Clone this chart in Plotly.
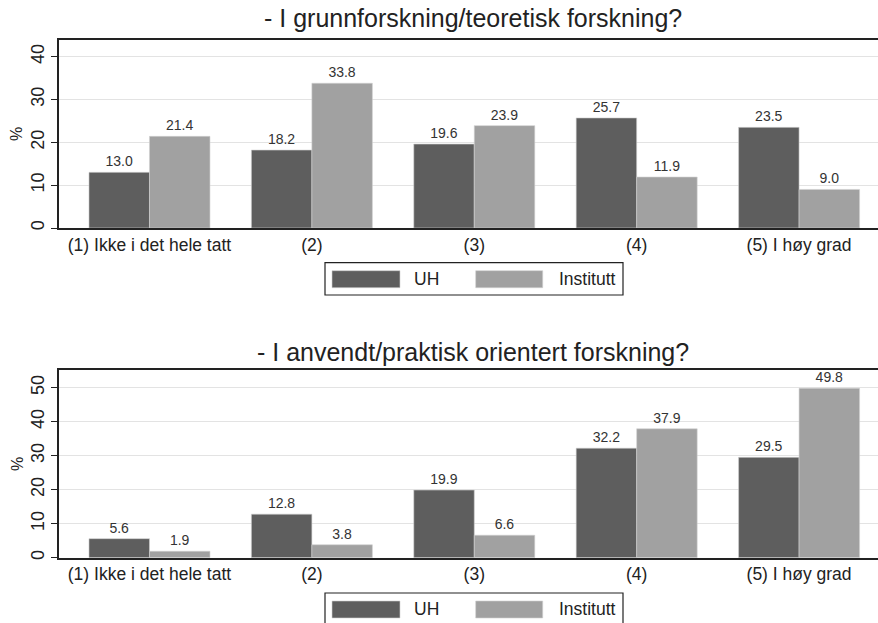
import plotly.graph_objects as go

categories = ["(1) Ikke i det hele tatt", "(2)", "(3)", "(4)", "(5) I høy grad"]
series_names = ["UH", "Institutt"]
titles = ["- I grunnforskning/teoretisk forskning?", "- I anvendt/praktisk orientert forskning?"]
y_title = "%"
uh_basic = [13.0, 18.2, 19.6, 25.7, 23.5]
inst_basic = [21.4, 33.8, 23.9, 11.9, 9.0]
uh_applied = [5.6, 12.8, 19.9, 32.2, 29.5]
inst_applied = [1.9, 3.8, 6.6, 37.9, 49.8]

W, H = 878, 623
colors = ["#5e5e5e", "#a1a1a1"]
FONT = "Liberation Sans, Arial, sans-serif"

def px_x(x):
    return x / W

def px_y(y):
    return 1 - y / H

fig = go.Figure()

panels = [
    dict(data=[uh_basic, inst_basic], top=40, bottom=228, ymax=43.9, ticks=[0, 10, 20, 30, 40], ax="", title_y=18),
    dict(data=[uh_applied, inst_applied], top=370.3, bottom=557.7, ymax=55.1, ticks=[0, 10, 20, 30, 40, 50], ax="2", title_y=352),
]

layout = dict(
    width=W, height=H, margin=dict(l=0, r=0, t=0, b=0, autoexpand=False),
    paper_bgcolor="white", plot_bgcolor="white",
    barmode="group", bargap=0.255, bargroupgap=0,
    showlegend=False, font=dict(family=FONT, color="#222"),
)
shapes = []
annotations = []

for i, p in enumerate(panels):
    ax = p["ax"]
    for j, vals in enumerate(p["data"]):
        fig.add_trace(go.Bar(
            x=categories, y=vals, name=series_names[j],
            marker=dict(color=colors[j], line=dict(color="#d0d0d0", width=0.6)),
            texttemplate="%{y:.1f}", textposition="outside", cliponaxis=False,
            textfont=dict(size=14, color="#333", family=FONT),
            xaxis="x" + ax, yaxis="y" + ax, offsetgroup=str(j),
        ))
    layout["xaxis" + ax] = dict(
        domain=[px_x(58.7), 1], range=[-0.559, 4.486], anchor="y" + ax,
        showline=True, mirror=True, linecolor="#222", linewidth=1.5,
        ticks="", tickfont=dict(size=17.5, family=FONT, color="#222"),
        showgrid=False, fixedrange=True, automargin=False,
    )
    layout["yaxis" + ax] = dict(
        domain=[px_y(p["bottom"]), px_y(p["top"])], range=[0, p["ymax"]], anchor="x" + ax,
        showline=True, mirror=False, linecolor="#222", linewidth=1.5,
        tickvals=p["ticks"], ticks="outside", ticklen=6, tickcolor="#222",
        tickangle=-90, tickfont=dict(size=18, family=FONT, color="#222"),
        showgrid=True, gridcolor="#e3e3e3", gridwidth=1, zeroline=False, automargin=False,
        fixedrange=True,
    )
    off = 0 if i == 0 else 330.3
    annotations.append(dict(
        text=y_title, x=px_x(17), y=px_y((p["top"] + p["bottom"]) / 2),
        xref="paper", yref="paper", showarrow=False, textangle=-90,
        font=dict(size=16, family=FONT, color="#222"), xanchor="center", yanchor="middle",
    ))
    annotations.append(dict(
        text=titles[i], x=px_x(473), y=px_y(p["title_y"]),
        xref="paper", yref="paper", showarrow=False,
        font=dict(size=25, family=FONT, color="#222"), xanchor="center", yanchor="middle",
    ))
    shapes.append(dict(type="rect", xref="paper", yref="paper",
                       x0=px_x(325), x1=px_x(623), y0=px_y(262.7 + off), y1=px_y(295 + off),
                       line=dict(color="#222", width=1.2), fillcolor="white"))
    sw = [(332, 400, 412), (475.7, 542.7, 557)]
    for j, (a, b, t) in enumerate(sw):
        shapes.append(dict(type="rect", xref="paper", yref="paper",
                           x0=px_x(a), x1=px_x(b), y0=px_y(270.7 + off), y1=px_y(287.7 + off),
                           line=dict(color="#d0d0d0", width=0.6), fillcolor=colors[j]))
        annotations.append(dict(
            text=series_names[j], x=px_x(t), y=px_y(279 + off), xref="paper", yref="paper",
            showarrow=False, xanchor="left", yanchor="middle",
            font=dict(size=17.5, family=FONT, color="#222"),
        ))

layout["shapes"] = shapes
layout["annotations"] = annotations
fig.update_layout(**layout)
fig.write_html("out.html", config={"displayModeBar": False},
               post_script="document.body.style.margin='0';document.body.style.overflow='hidden';")
